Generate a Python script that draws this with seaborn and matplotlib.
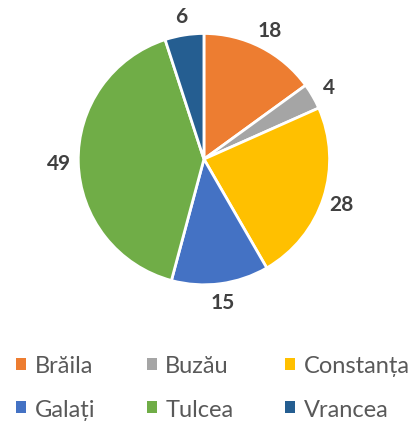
import matplotlib
matplotlib.use("Agg")
import matplotlib.pyplot as plt
from matplotlib.patches import Patch
import seaborn as sns

judete = ["Brăila", "Buzău", "Constanța", "Galați", "Tulcea", "Vrancea"]
valori = [18, 4, 28, 15, 49, 6]
culori = ["#ED7D31", "#A5A5A5", "#FFC000", "#4472C4", "#70AD47", "#255E91"]

sns.set_theme(style="white")
plt.rcParams["font.family"] = ["Lato", "DejaVu Sans"]

fig = plt.figure(figsize=(4.12, 4.27), dpi=100)
ax = fig.add_axes([0.19, 0.33, 0.61, 0.59])

wedges, texts = ax.pie(valori, labels=[str(v) for v in valori], colors=culori,
                       startangle=90, counterclock=False, labeldistance=1.15,
                       wedgeprops=dict(edgecolor="white", linewidth=2),
                       textprops=dict(fontsize=15, fontweight="bold", color="#404040"))
for t in texts:
    t.set_ha("center")
    t.set_va("center")
ax.set_aspect("equal")
ax.set_xlim(-1, 1)
ax.set_ylim(-1, 1)

# legenda pe randuri: matplotlib umple pe coloane, deci reordonam
ordine = [0, 3, 1, 4, 2, 5]
handles = [Patch(facecolor=culori[i], edgecolor="none") for i in ordine]
etichete = [judete[i] for i in ordine]
fig.legend(handles, etichete, loc="lower center", bbox_to_anchor=(0.517, -0.035),
           ncol=3, frameon=False, fontsize=17, labelcolor="#595959",
           handlelength=0.42, handleheight=0.42, handletextpad=0.35,
           columnspacing=2.2, labelspacing=0.95)

fig.savefig("out.png", dpi=100)
